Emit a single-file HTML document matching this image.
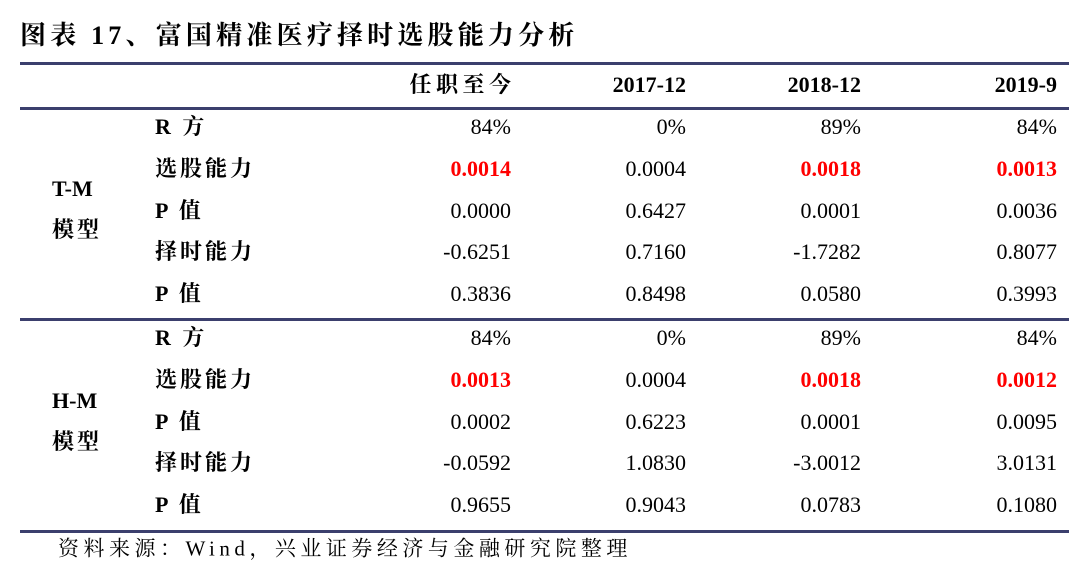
<!DOCTYPE html>
<html><head><meta charset="utf-8"><style>
body{margin:0;width:1080px;height:566px;background:#fff;position:relative;overflow:hidden;font-family:"Liberation Serif","Noto Serif CJK SC",serif;color:#000}
.t{position:absolute;white-space:nowrap;line-height:1;transform:translateY(-50%)}
.r{text-align:right;width:200px}
.line{position:absolute;left:20px;width:1049px;height:3px;background:#3b3f6d}
.b{font-weight:bold}
.red{color:#f00;font-weight:bold}
</style></head><body>
<div class="t b" style="left:20px;top:36px;font-size:26px;letter-spacing:4.2px">图表 17、富国精准医疗择时选股能力分析</div>
<div class="line" style="top:62px"></div>
<div class="line" style="top:107px"></div>
<div class="line" style="top:318px"></div>
<div class="line" style="top:530px"></div>
<div id="tbl"></div>
<div class="t" style="left:58px;top:549px;font-size:21px;letter-spacing:4.5px">资料来源：Wind，兴业证券经济与金融研究院整理</div>
<script>
const headers=["任职至今","2017-12","2018-12","2019-9"];
const colRight=[511,686,861,1057];
const rowLabels=["R 方","选股能力","P 值","择时能力","P 值"];
const tm=[["84%","0%","89%","84%"],["0.0014","0.0004","0.0018","0.0013"],["0.0000","0.6427","0.0001","0.0036"],["-0.6251","0.7160","-1.7282","0.8077"],["0.3836","0.8498","0.0580","0.3993"]];
const hm=[["84%","0%","89%","84%"],["0.0013","0.0004","0.0018","0.0012"],["0.0002","0.6223","0.0001","0.0095"],["-0.0592","1.0830","-3.0012","3.0131"],["0.9655","0.9043","0.0783","0.1080"]];
const redCols=[0,2,3];
const tbl=document.getElementById('tbl');
function add(txt,cls,left,top,size,name,ls){
 const d=document.createElement('div');
 d.className='t '+cls;d.textContent=txt;
 d.style.left=left+'px';d.style.top=top+'px';d.style.fontSize=size+'px';
 if(ls)d.style.letterSpacing=ls+'px';
 
 
 tbl.appendChild(d);
}
headers.forEach((h,i)=>{
 const cjk=/[\u4e00-\u9fff]/.test(h);
 add(h,'r b',colRight[i]-200+(cjk?4.5:0),85,22,'column-header',cjk?4.5:0);
});
function section(data,y0,model,gy){
 add(model,'b',52,gy,22,'model-label');
 add('模型','b',52,gy+41,22,'model-label',3);
 rowLabels.forEach((l,r)=>{
  const y=y0+r*41.8;
  add(l,'b',155,y,22,'row-label',3);
  data[r].forEach((v,c)=>add(v,'r'+(r===1&&redCols.includes(c)?' red':''),colRight[c]-200,y,22,'cell-value'));
 });
}
section(tm,127,'T-M',189);
section(hm,338,'H-M',401);
</script>
</body></html>
